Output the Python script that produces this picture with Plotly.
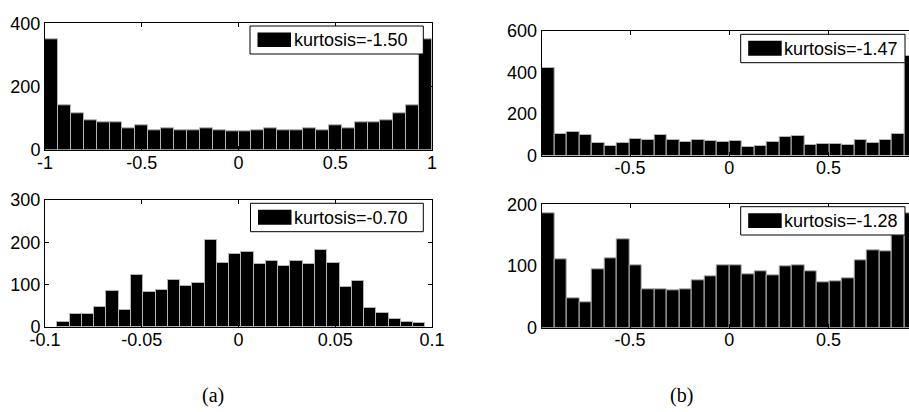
import numpy as np
import plotly.graph_objects as go

W, H = 909, 412

# ---------------- data ----------------
# panel (a) top: 30 bins on [-1, 1]
a_top_edges = (-1.0, 1.0)
a_top_counts = [349, 142, 116, 95, 86, 86, 70, 78, 61, 69, 61, 61, 69, 61, 58,
                58, 61, 69, 61, 61, 69, 61, 78, 69, 86, 86, 95, 116, 142, 349]
a_top_label = "kurtosis=-1.50"

# panel (a) bottom: 30 bins on [-0.0936, 0.0966]
a_bot_edges = (-0.0936, 0.0966)
a_bot_counts = [13, 30, 30, 47, 84, 41, 122, 82, 87, 111, 97, 105, 205, 152, 173,
                177, 150, 157, 143, 155, 150, 182, 152, 95, 109, 45, 34, 20, 13, 9]
a_bot_label = "kurtosis=-0.70"

# panel (b) top: 30 bins on [-0.945, 0.945]
b_top_edges = (-0.945, 0.945)
b_top_counts = [422, 102, 114, 98, 59, 46, 59, 80, 75, 98, 75, 64, 75, 70, 64,
                72, 42, 46, 64, 88, 93, 50, 56, 56, 50, 75, 59, 75, 106, 480]
b_top_label = "kurtosis=-1.47"

# panel (b) bottom
b_bot_edges = (-0.945, 0.945)
b_bot_counts = [185, 111, 48, 41, 95, 112, 143, 101, 62, 62, 61, 62, 77, 83, 101,
                102, 87, 91, 85, 100, 101, 91, 74, 75, 80, 109, 126, 124, 150, 185]
b_bot_label = "kurtosis=-1.28"

a_top_xticks = [-1, -0.5, 0, 0.5, 1]
a_top_xtext = ["-1", "-0.5", "0", "0.5", "1"]
a_bot_xticks = [-0.1, -0.05, 0, 0.05, 0.1]
a_bot_xtext = ["-0.1", "-0.05", "0", "0.05", "0.1"]
b_xticks = [-0.5, 0, 0.5]
b_xtext = ["-0.5", "0", "0.5"]

a_top_yticks = [0, 200, 400]
a_bot_yticks = [0, 100, 200, 300]
b_top_yticks = [0, 200, 400, 600]
b_bot_yticks = [0, 100, 200]

panel_letters = ["(a)", "(b)"]

# ---------------- layout helpers ----------------
def px_x(p):
    return p / W

def px_y(p):
    return 1 - p / H

FONT = "Arial, Liberation Sans, sans-serif"
SERIF = "Times New Roman, Liberation Serif, serif"

panels = [
    dict(counts=a_top_counts, edges=a_top_edges, xr=[-1, 1], xd=(45, 432), yd=(23.3, 150),
         yr=[0, 400], xt=a_top_xticks, xtt=a_top_xtext, yt=a_top_yticks, label=a_top_label,
         box=(250, 26, 423.3, 54), mir=True),
    dict(counts=a_bot_counts, edges=a_bot_edges, xr=[-0.1, 0.1], xd=(45, 432), yd=(200, 327),
         yr=[0, 300], xt=a_bot_xticks, xtt=a_bot_xtext, yt=a_bot_yticks, label=a_bot_label,
         box=(250.5, 203.3, 423.3, 231.7), mir=True),
    dict(counts=b_top_counts, edges=b_top_edges, xr=[-0.945, 0.906], xd=(541.7, 909), yd=(31, 155.5),
         yr=[0, 600], xt=b_xticks, xtt=b_xtext, yt=b_top_yticks, label=b_top_label,
         box=(740.7, 34.3, 905, 62.7), mir=False),
    dict(counts=b_bot_counts, edges=b_bot_edges, xr=[-0.945, 0.906], xd=(541.7, 909), yd=(204.3, 327.8),
         yr=[0, 200], xt=b_xticks, xtt=b_xtext, yt=b_bot_yticks, label=b_bot_label,
         box=(740.7, 206.7, 905, 235), mir=False),
]

fig = go.Figure()
shapes = []
annotations = []

for i, p in enumerate(panels, start=1):
    n = len(p["counts"])
    lo, hi = p["edges"]
    w = (hi - lo) / n
    centers = lo + w * (np.arange(n) + 0.5)
    xa = "x" if i == 1 else f"x{i}"
    ya = "y" if i == 1 else f"y{i}"
    fig.add_trace(go.Bar(
        x=centers, y=p["counts"], width=w, xaxis=xa, yaxis=ya,
        marker=dict(color="black", line=dict(color="#b4b4b4", width=1)),
        showlegend=False, hoverinfo="x+y", name=p["label"],
    ))
    axkey_x = "xaxis" if i == 1 else f"xaxis{i}"
    axkey_y = "yaxis" if i == 1 else f"yaxis{i}"
    common = dict(showline=True, linecolor="black", linewidth=1, ticks="inside", ticklen=4,
                  tickcolor="black", tickwidth=1, showgrid=False, zeroline=False,
                  automargin=False,
                  tickfont=dict(family=FONT, size=18, color="black"))
    fig.layout[axkey_x] = dict(
        domain=[px_x(p["xd"][0]), px_x(p["xd"][1])], range=p["xr"], anchor=ya,
        tickvals=p["xt"], ticktext=p["xtt"], mirror="allticks",
        ticklabelstandoff=-4, **common)
    fig.layout[axkey_y] = dict(
        domain=[px_y(p["yd"][1]), px_y(p["yd"][0])], range=p["yr"], anchor=xa,
        tickvals=p["yt"], ticktext=[str(v) for v in p["yt"]],
        mirror="allticks" if p["mir"] else False, **common)

    x0, y0, x1, y1 = p["box"]
    shapes.append(dict(type="rect", xref="paper", yref="paper",
                       x0=px_x(x0), x1=px_x(x1), y0=px_y(y1), y1=px_y(y0),
                       line=dict(color="black", width=1), fillcolor="white", layer="above"))
    sy0 = y0 + 6.5
    sy1 = y1 - 7
    shapes.append(dict(type="rect", xref="paper", yref="paper",
                       x0=px_x(x0 + 7.5), x1=px_x(x0 + 41), y0=px_y(sy1), y1=px_y(sy0),
                       line=dict(color="black", width=0), fillcolor="black", layer="above"))
    annotations.append(dict(text=p["label"], xref="paper", yref="paper",
                            x=px_x(x0 + 41.5), y=px_y((y0 + y1) / 2), xanchor="left", yanchor="middle",
                            showarrow=False, font=dict(family=FONT, size=18, color="black")))

annotations.append(dict(text=panel_letters[0], xref="paper", yref="paper", x=px_x(213), y=px_y(395),
                        xanchor="center", yanchor="middle", showarrow=False,
                        font=dict(family=SERIF, size=20, color="black")))
annotations.append(dict(text=panel_letters[1], xref="paper", yref="paper", x=px_x(681), y=px_y(395),
                        xanchor="center", yanchor="middle", showarrow=False,
                        font=dict(family=SERIF, size=20, color="black")))

fig.update_layout(
    width=W, height=H, margin=dict(l=0, r=0, t=0, b=0, pad=0, autoexpand=False),
    paper_bgcolor="white", plot_bgcolor="white",
    bargap=0, shapes=shapes, annotations=annotations, showlegend=False,
)

fig.write_html(
    "out.html",
    config={"displayModeBar": False},
    post_script="document.body.style.margin='0';document.body.style.overflow='hidden';",
)
